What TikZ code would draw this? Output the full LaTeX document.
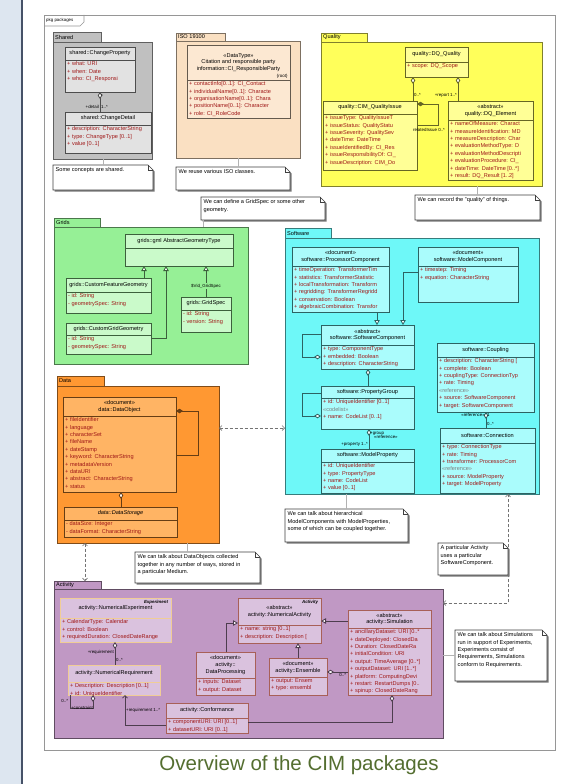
\documentclass[tikz,border=0pt]{standalone}
\usepackage{fontspec}
\setmainfont{Liberation Sans}
\usepackage{xcolor}
\usepackage{tikz}
\usetikzlibrary{arrows.meta}

\definecolor{pagebg}{RGB}{221,230,240}
\definecolor{pageedge}{RGB}{70,82,104}
\definecolor{framegray}{RGB}{150,150,150}
\definecolor{attrred}{RGB}{160,24,24}
\definecolor{captiongreen}{RGB}{84,110,48}
\definecolor{noteshadow}{RGB}{120,120,120}
\definecolor{sharedpkg}{RGB}{192,192,192}
\definecolor{sharedcls}{RGB}{226,226,226}
\definecolor{isopkg}{RGB}{250,224,194}
\definecolor{isocls}{RGB}{252,232,210}
\definecolor{qualpkg}{RGB}{255,255,90}
\definecolor{qualcls}{RGB}{255,255,150}
\definecolor{gridpkg}{RGB}{150,240,150}
\definecolor{gridcls}{RGB}{202,250,202}
\definecolor{softpkg}{RGB}{110,248,248}
\definecolor{softcls}{RGB}{170,252,252}
\definecolor{datapkg}{RGB}{255,152,50}
\definecolor{datacls}{RGB}{255,180,100}
\definecolor{actpkg}{RGB}{192,152,196}
\definecolor{actcls}{RGB}{218,194,222}
\definecolor{actedge}{RGB}{168,96,88}
\definecolor{reqedge}{RGB}{240,205,150}

\newcommand{\clsfill}{white}
\newcommand{\clsline}{black}
\newcommand{\umlfont}{\fontsize{5.6}{6.6}\selectfont}
\newcommand{\attrfont}{\fontsize{5.6}{7.4}\selectfont}
\newcommand{\tagfont}{\fontsize{4.4}{5}\selectfont}

% package: name, label, left, tab top, tab right, body top, right, bottom, colour
\newcommand{\umlpackage}[9]{%
  \node[pkg=#9, anchor=north west, inner sep=0pt, outer sep=0pt,
        minimum width={(#5-#3)*1pt}, minimum height={(#6-#4)*1pt}] (#1-tab) at (#3,#4) {};
  \node[pkg=#9, anchor=north west, inner sep=0pt, outer sep=0pt,
        minimum width={(#7-#3)*1pt}, minimum height={(#8-#6)*1pt}] (#1) at (#3,#6) {};
  \node[pkgname] at (#3,{(#4+#6)/2}) {#2};
}
% class: name, left, top, right, bottom, header rule, header, attributes
\newcommand{\umlclass}[8]{%
  \node[classbox, anchor=north west, minimum width={(#4-#2)*1pt},
        minimum height={(#5-#3)*1pt}] (#1) at (#2,#3) {};
  \node[clshead] at ({(#2+#4)/2},{(#3+#6)/2}) {#7};
  \draw[classrule] (#2,#6) -- (#4,#6);
  \begin{scope}
    \clip (#2,#6) rectangle (#4,#5);
    \node[clsattr] at (#2,#6) {#8};
  \end{scope}
}
% note: name, left, top, right, bottom, text
\newcommand{\umlnote}[6]{%
  \fill[noteshadow, shift={(1.5,1.5)}] (#2,#3) -- ({#4-5},#3) -- (#4,{#3+5}) -- (#4,#5) -- (#2,#5) -- cycle;
  \node[anchor=north west, inner sep=0pt, outer sep=0pt, minimum width={(#4-#2)*1pt},
        minimum height={(#5-#3)*1pt}] (#1) at (#2,#3) {};
  \filldraw[noteline] (#2,#3) -- ({#4-5},#3) -- (#4,{#3+5}) -- (#4,#5) -- (#2,#5) -- cycle;
  \draw[noteline, fill=none] ({#4-5},#3) |- (#4,{#3+5});
  \node[notetext] at (#2,#3) {#6};
}

\tikzset{
  pkg/.style={draw=#1!50!black, fill=#1, line width=0.7pt},
  pkgname/.style={anchor=west, font=\umlfont, inner sep=2pt},
  classbox/.style={draw=\clsline, fill=\clsfill, line width=0.8pt, inner sep=0pt, outer sep=0pt},
  classrule/.style={draw=\clsline, line width=0.5pt},
  clshead/.style={align=center, font=\umlfont, inner sep=0pt},
  clsattr/.style={anchor=north west, align=left, font=\attrfont, text=attrred, inner xsep=2pt, inner ysep=1.5pt},
  noteline/.style={draw=black!75, fill=white, line width=0.6pt},
  notetext/.style={anchor=north west, align=left, font=\attrfont, inner sep=2.5pt},
  noteconn/.style={draw=black!30, line width=0.6pt},
  link/.style={draw=#1!40!black, line width=0.8pt},
  aggr/.style={{Diamond[fill=white, length=7pt, width=4.5pt]}-},
  comp/.style={{Diamond[length=7pt, width=4.5pt]}-},
  gen/.style={-{Triangle[fill=white, length=5pt, width=5.5pt]}},
  nav/.style={-{Straight Barb[length=2.5pt, width=5pt]}},
  dep/.style={draw=black!55, densely dashed, line width=0.6pt,
    {Straight Barb[length=2.5pt, width=5pt]}-{Straight Barb[length=2.5pt, width=5pt]}},
  lbl/.style={font=\tagfont, inner sep=0.8pt},
}

\begin{document}
\begin{tikzpicture}[x=1pt, y=-1pt]
\useasboundingbox (0,0) rectangle (576,784);
% page and frame
\fill[pagebg] (0,0) rectangle (576,784);
\fill[white] (23,0) rectangle (576,784);
\draw[pageedge, line width=1.5pt] (22,0) -- (22,784);
\draw[framegray, fill=white, line width=0.8pt] (44,15) rectangle (555,750);
\draw[framegray, line width=0.6pt] (44,26) -- (80,26) -- (84,22) -- (84,15);
\node[anchor=west, font=\tagfont, inner sep=1pt] (pkgtitle) at (45,20.5) {pkg packages};

% Shared
\umlpackage{shared}{Shared}{53}{32}{101}{42}{152}{159}{sharedpkg}
\renewcommand{\clsfill}{sharedcls}\renewcommand{\clsline}{sharedpkg!40!black}
\umlclass{chgprop}{65}{47}{135}{92}{60}{shared::ChangeProperty}{+ what: URI\\+ when: Date\\+ who: CI\_Responsi}
\umlclass{chgdetail}{65}{112}{151}{153}{125}{shared::ChangeDetail}{+ description: CharacterString\\+ type: ChangeType [0..1]\\+ value [0..1]}
\draw[link=sharedpkg, aggr] (chgprop.south) -- node[lbl, pos=0.2, right] {*}
  node[lbl, pos=0.75, left] {+detail} node[lbl, pos=0.75, right] {1..*} (chgprop.south |- chgdetail.north);

% ISO 19100
\umlpackage{iso}{ISO 19100}{176}{33}{225}{41}{300}{158}{isopkg}
\renewcommand{\clsfill}{isocls}\renewcommand{\clsline}{isopkg!40!black}
\umlclass{respparty}{187}{45}{290}{118}{80}{«DataType»\\Citation and responsible party\\information::CI\_ResponsibleParty}{+ contactInfo[0..1]: CI\_Contact\\+ individualName[0..1]: Characte\\+ organisationName[0..1]: Chara\\+ positionName[0..1]: Character\\+ role: CI\_RoleCode}
\node[lbl, anchor=south east] at ([shift={(-1.5pt,1pt)}]respparty.north east |- 0,80) {\{root\}};

% Quality
\umlpackage{quality}{Quality}{321}{33}{367}{42}{542}{186}{qualpkg}
\renewcommand{\clsfill}{qualcls}\renewcommand{\clsline}{qualpkg!40!black}
\umlclass{dqquality}{405}{47}{468}{77}{62}{quality::DQ\_Quality}{+ scope: DQ\_Scope}
\umlclass{qissue}{323}{101}{417}{170}{114}{quality::CIM\_QualityIssue}{+ issueType: QualityIssueT\\+ issueStatus: QualityStatu\\+ issueSeverity: QualitySev\\+ dateTime: DateTime\\+ issueIdentifiedBy: CI\_Res\\+ issueResponsibilityOf: CI\_\\+ issueDescription: CIM\_Do}
\umlclass{dqelement}{448}{101}{533}{180}{120}{«abstract»\\quality::DQ\_Element}{+ nameOfMeasure: Charact\\+ measureIdentification: MD\\+ measureDescription: Char\\+ evaluationMethodType: D\\+ evaluationMethodDescripti\\+ evaluationProcedure: CI\_\\+ dateTime: DateTime [0..*]\\+ result: DQ\_Result [1..2]}
\draw[link=qualpkg, aggr] ([xshift=8pt]dqquality.south west) -- node[lbl, pos=0.75, right] {0..*} ([xshift=8pt]dqquality.south west |- qissue.north);
\draw[link=qualpkg, aggr] ([xshift=-10pt]dqquality.south east) -- node[lbl, pos=0.75, left] {+report 1..*} ([xshift=-10pt]dqquality.south east |- dqelement.north);
\draw[link=qualpkg, comp] ([yshift=-3pt]qissue.north east) -- ++(21,0) |- ([yshift=-24pt]qissue.north east);
\node[lbl, anchor=north] at ([shift={(12pt,-26pt)}]qissue.north east) {relatedIssue 0..*};

% Grids
\umlpackage{grids}{Grids}{54}{218}{100}{227}{248}{364}{gridpkg}
\renewcommand{\clsfill}{gridcls}\renewcommand{\clsline}{gridpkg!40!black}
\umlclass{abstgeom}{125}{234}{233}{266}{248}{grids::gml AbstractGeometryType}{}
\umlclass{featgeom}{66}{278}{151}{313}{292}{grids::CustomFeatureGeometry}{- id: String\\- geometrySpec: String}
\umlclass{gridgeom}{66}{323}{151}{354}{335}{grids::CustomGridGeometry}{- id: String\\- geometrySpec: String}
\umlclass{gridspec}{181}{297}{231}{332}{310}{grids::GridSpec}{- id: String\\- version: String}
\draw[link=gridpkg, gen] ([xshift=-7pt]featgeom.north east) -- ([xshift=-7pt]featgeom.north east |- abstgeom.south);
\draw[link=gridpkg, gen] (gridgeom.east) -| ([xshift=41pt]abstgeom.south west);
\draw[link=gridpkg, gen] (gridspec.north) -- node[lbl, pos=0.35, fill=gridpkg] {\$Vid\_GridSpec} (gridspec.north |- abstgeom.south);

% Software
\umlpackage{soft}{Software}{285}{228}{331}{238}{539}{494}{softpkg}
\renewcommand{\clsfill}{softcls}\renewcommand{\clsline}{softpkg!40!black}
\umlclass{proccomp}{292}{247}{389}{312}{266}{«document»\\software::ProcessorComponent}{+ timeOperation: TransformerTim\\+ statistics: TransformerStatistic\\+ localTransformation: Transform\\+ regridding: TransformerRegridd\\+ conservation: Boolean\\+ algebraicCombination: Transfor}
\umlclass{modelcomp}{418}{247}{518}{302}{266}{«document»\\software::ModelComponent}{+ timestep: Timing\\+ equation: CharacterString}
\umlclass{softcomp}{321}{325}{414}{369}{345}{«abstract»\\software::SoftwareComponent}{+ type: ComponentType\\+ embedded: Boolean\\+ description: CharacterString}
\umlclass{propgroup}{321}{386}{414}{429}{398}{software::PropertyGroup}{+ id: UniqueIdentifier [0..1]\\{\color{gray}«codelist»}\\+ name: CodeList [0..1]}
\umlclass{modelprop}{321}{449}{414}{493}{462}{software::ModelProperty}{+ id: UniqueIdentifier\\+ type: PropertyType\\+ name: CodeList\\+ value [0..1]}
\umlclass{coupling}{437}{343}{534}{412}{357}{software::Coupling}{+ description: CharacterString [\\+ complete: Boolean\\+ couplingType: ConnectionTyp\\+ rate: Timing\\{\color{gray}«reference»}\\+ source: SoftwareComponent\\+ target: SoftwareComponent}
\umlclass{connection}{440}{428}{535}{493}{443}{software::Connection}{+ type: ConnectionType\\+ rate: Timing\\+ transformer: ProcessorCom\\{\color{gray}«reference»}\\+ source: ModelProperty\\+ target: ModelProperty}
\draw[link=softpkg, gen] ([xshift=-12pt]proccomp.south east) -- ([xshift=-12pt]proccomp.south east |- softcomp.north);
\draw[link=softpkg, gen] ([yshift=-25pt]modelcomp.north west) -| ([xshift=-11pt]softcomp.north east);
\draw[link=softpkg, aggr] ([yshift=-32pt]softcomp.north west) -- ++(-19,0) |- ([yshift=-9pt]softcomp.north west);
\draw[link=softpkg, aggr] ([xshift=47pt]softcomp.south west) -- ([xshift=47pt]softcomp.south west |- propgroup.north);
\draw[link=softpkg, aggr] ([yshift=-30pt]propgroup.north west) -- ++(-19,0) |- ([yshift=-7pt]propgroup.north west);
\draw[link=softpkg, aggr] ([xshift=48pt]propgroup.south west) -- node[lbl, pos=0.3, right, align=left] {+group\\[-1pt]\hspace{4pt}«reference»}
  node[lbl, pos=0.78, left] {+property 1..*} ([xshift=48pt]propgroup.south west |- modelprop.north);
\draw[link=softpkg, aggr] ([xshift=49pt]coupling.south west) -- node[lbl, pos=0.2, left] {«reference»} node[lbl, pos=0.2, right] {1}
  node[lbl, pos=0.75, right] {0..*} ([xshift=49pt]coupling.south west |- connection.north);

% Data
\umlpackage{data}{Data}{57}{376}{104}{386}{219}{543}{datapkg}
\renewcommand{\clsfill}{datacls}\renewcommand{\clsline}{datapkg!40!black}
\umlclass{dataobj}{63}{397}{176}{492}{416}{«document»\\data::DataObject}{+ fileIdentifier\\+ language\\+ characterSet\\+ fileName\\+ dateStamp\\+ keyword: CharacterString\\+ metadataVersion\\+ dataURI\\+ abstract: CharacterString\\+ status}
\umlclass{datastore}{64}{507}{177}{537}{520}{\itshape data::DataStorage}{- dataSize: Integer\\- dataFormat: CharacterString}
\draw[link=datapkg, comp] ([yshift=-14pt]dataobj.north east) -- ++(22,0) |- ([yshift=-58pt]dataobj.north east);
\draw[link=datapkg, aggr] ([xshift=58pt]dataobj.south west) -- ([xshift=58pt]dataobj.south west |- datastore.north);

% Activity
\umlpackage{act}{Activity}{54}{581}{101}{589}{443}{738}{actpkg}
\renewcommand{\clsfill}{actcls}\renewcommand{\clsline}{reqedge}
\umlclass{numexp}{60}{598}{171}{642}{618}{activity::NumericalExperiment}{+ CalendarType: Calendar\\+ control: Boolean\\+ requiredDuration: ClosedDateRange}
\node[lbl, anchor=north east, font=\tagfont\bfseries\itshape] at ([shift={(-2pt,-1.5pt)}]numexp.north east) {Experiment};
\umlclass{numreq}{68}{665}{160}{695}{682}{activity::NumericalRequirement}{+ Description: Description [0..1]\\+ id: UniqueIdentifier}
\renewcommand{\clsline}{actedge}
\umlclass{numact}{238}{598}{321}{643}{625}{«abstract»\\activity::NumericalActivity}{+ name: string [0..1]\\+ description: Description [}
\node[lbl, anchor=north east, font=\tagfont\bfseries\itshape] at ([shift={(-2pt,-1.5pt)}]numact.north east) {Activity};
\umlclass{dataproc}{196}{652}{255}{695}{678}{«document»\\activity::\\DataProcessing}{+ inputs: Dataset\\+ output: Dataset}
\umlclass{ensemble}{269}{658}{327}{695}{677}{«document»\\activity::Ensemble}{+ output: Ensem\\+ type: ensembl}
\umlclass{simulation}{348}{610}{431}{695}{628}{«abstract»\\activity::Simulation}{+ ancillaryDataset: URI [0..*\\+ dateDeployed: ClosedDa\\+ Duration: ClosedDateRa\\+ initialCondition: URI\\+ output: TimeAverage [0..*]\\+ outputDataset: URI [1..*]\\+ platform: ComputingDevi\\+ restart: RestartDumps [0..\\+ spinup: ClosedDateRang}
\umlclass{conform}{166}{703}{248}{733}{718}{activity::Conformance}{+ componentURI: URI [0..1]\\+ datasetURI: URI [0..1]}
\draw[link=actpkg, aggr] ([xshift=55pt]numexp.south west) -- node[lbl, pos=0.45, left] {+requirement}
  node[lbl, pos=0.8, right] {0..*} ([xshift=55pt]numexp.south west |- numreq.north);
\draw[link=actpkg, aggr] ([xshift=25pt]numreq.south west) -- ++(0,13) -| ([xshift=2pt]numreq.south west);
\node[lbl, anchor=east] at ([shift={(1pt,-6pt)}]numreq.south west) {0..*};
\node[lbl, anchor=north] at ([shift={(14pt,-10pt)}]numreq.south west) {+constraint};
\draw[link=actpkg, nav] ([yshift=8pt]conform.south west) -| node[lbl, pos=0.75, right] {+requirement 1..*} ([xshift=57pt]numreq.south west);
\draw[link=actpkg, gen] ([xshift=30pt]dataproc.north west) |- ([yshift=-25pt]numact.north west);
\draw[link=actpkg, gen] ([xshift=29pt]ensemble.north west) -- ([xshift=29pt]ensemble.north west |- numact.south);
\draw[link=actpkg, gen] ([yshift=-11pt]simulation.north west) -- ([yshift=-11pt]simulation.north west -| numact.east);
\draw[link=actpkg, aggr] ([yshift=-14pt]ensemble.north east) -- node[lbl, pos=0.75, below] {0..*} ([yshift=-14pt]ensemble.north east -| simulation.west);
\draw[link=actpkg, aggr] ([xshift=44pt]simulation.south west) |- ([yshift=11pt]conform.south east);

% dependencies between packages
\draw[dep] ([yshift=-42pt]data.north east) -- ([yshift=-42pt]data.north east -| soft.west);
\draw[dep] ([xshift=28pt]data.south west) -- ([xshift=28pt]data.south west |- act-tab.north);
\draw[dep] ([yshift=-14pt]act.north east) -| ([xshift=-31pt]soft.south east);

% notes
\umlnote{noteshared}{53}{165}{153}{190}{Some concepts are shared.}
\umlnote{noteiso}{176}{167}{290}{190}{We reuse various ISO classes.}
\umlnote{notegrids}{201}{197}{325}{220}{We can define a GridSpec or some other\\geometry.}
\umlnote{notequal}{415}{195}{540}{220}{We can record the "quality" of things.}
\umlnote{notesoft}{285}{509}{408}{542}{We can talk about hierarchical\\ModelComponents with ModelProperties,\\some of which can be coupled together.}
\umlnote{noteuse}{438}{543}{508}{575}{A particular Activity\\uses a particular\\SoftwareComponent.}
\umlnote{notedata}{135}{552}{260}{583}{We can talk about DataObjects collected\\together in any number of ways, stored in\\a particular Medium.}
\umlnote{noteact}{455}{630}{547}{681}{We can talk about Simulations\\run in support of Experiments,\\Experiments consist of\\Requirements, Simulations\\conform to Requirements.}
\draw[noteconn] (noteshared.north) -- (noteshared.north |- shared.south);
\draw[noteconn] (iso.south) -- (iso.south |- noteiso.north);
\draw[noteconn] ([xshift=2pt]notegrids.south west) -- ([xshift=2pt]notegrids.south west |- grids.north);
\draw[noteconn] (notequal.north) -- (notequal.north |- quality.south);
\draw[noteconn] (notesoft.north) -- (notesoft.north |- soft.south);
\draw[noteconn] ([xshift=-10pt]notedata.north) -- ([xshift=-10pt]notedata.north |- data.south);
\draw[noteconn] (noteact.west) -- (noteact.west -| act.east);

% caption
\node[font=\fontsize{20.5}{24}\selectfont, text=captiongreen, inner sep=0pt] (caption) at (299,765) {Overview of the CIM packages};
\end{tikzpicture}
\end{document}
